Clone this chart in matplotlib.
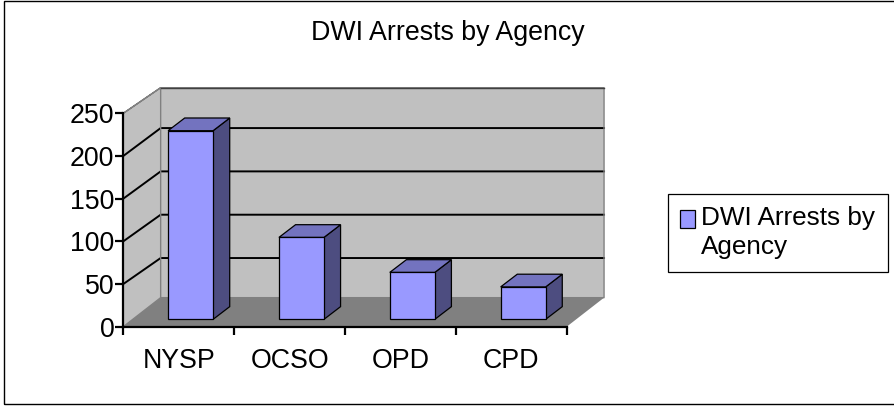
import matplotlib as mpl
mpl.use('Agg')
import matplotlib.pyplot as plt
from matplotlib.legend_handler import HandlerPatch
from matplotlib.patches import Polygon, Rectangle

plt.rcParams['font.family'] = ['Liberation Sans', 'DejaVu Sans']

agencies = ['NYSP', 'OCSO', 'OPD', 'CPD']
arrests = [221, 96, 55, 38]
y_ticks = [0, 50, 100, 150, 200, 250]
title = 'DWI Arrests by Agency'
legend_label = 'DWI Arrests by\nAgency'

W, H = 894, 407
FS = 19.3

# fake 3d offsets, in data units
wall_dx = 0.337
floor_dy = 34
wall_scale = 0.984
grid_dy = 29.7
grid_scale = 1.015
bar_w = 0.406
bar_shift_x = 0.127
bar_shift_y = 8.6
bar_dx = 0.15
bar_dy = 14.9

fig = plt.figure(figsize=(W / 100, H / 100), dpi=100)
fig.add_artist(Rectangle((3.5 / W, 1 - 403.5 / H), 895 / W, 403 / H, fill=False, ec='black', lw=1.0,
                         transform=fig.transFigure))
ax = fig.add_axes([123.3 / W, 1 - 326.7 / H, (566.7 - 123.3) / W, (326.7 - 113.3) / H])
ax.set_xlim(0, len(agencies))
ax.set_ylim(0, 250)
ax.patch.set_visible(False)


def poly(pts, fc, ec='none', lw=0, z=1):
    ax.add_patch(Polygon(pts, closed=True, fc=fc, ec=ec, lw=lw, zorder=z, clip_on=False))


def back(v):
    return v * wall_scale + floor_dy


def raised_square(legend, orig_handle, xdescent, ydescent, width, height, fontsize):
    # legend key sits next to the first text line
    return Rectangle((-xdescent, -ydescent + 10), width, height)


n = len(agencies)
# walls and floor
poly([(wall_dx, back(0)), (n + wall_dx, back(0)), (n + wall_dx, back(250)), (wall_dx, back(250))], '#c0c0c0')
poly([(0, 0), (wall_dx, back(0)), (wall_dx, back(250)), (0, 250)], '#c0c0c0')
poly([(0, 0), (n, 0), (n + wall_dx, back(0)), (wall_dx, back(0))], '#808080')

# gridlines on side wall and back wall
for v in y_ticks[1:-1]:
    gy = v * grid_scale + grid_dy
    ax.plot([0, wall_dx, n + wall_dx], [v, gy, gy], color='black', lw=1.4, zorder=2, clip_on=False)
ax.plot([0, wall_dx, n + wall_dx, n + wall_dx, wall_dx, wall_dx, 0], [250, back(250), back(250), back(0), back(0), back(250), 250],
        color='#808080', lw=1.0, zorder=2, clip_on=False)
ax.plot([wall_dx, n + wall_dx], [back(250), back(250)], color='#404040', lw=1.0, zorder=2, clip_on=False)
ax.plot([0, wall_dx], [0, back(0)], color='#808080', lw=1.0, zorder=2, clip_on=False)

# bars: side and top faces follow the front face
for i, val in enumerate(arrests):
    x0 = i + 0.5 - bar_w / 2 + bar_shift_x - 0.02
    x1 = x0 + bar_w
    y0 = bar_shift_y
    y1 = val + bar_shift_y
    poly([(x1, y0), (x1 + bar_dx, y0 + bar_dy), (x1 + bar_dx, y1 + bar_dy), (x1, y1)], '#4d4d80', 'black', 0.9, 3)
    poly([(x0, y1), (x1, y1), (x1 + bar_dx, y1 + bar_dy), (x0 + bar_dx, y1 + bar_dy)], '#7373bf', 'black', 0.9, 3)
    ax.bar(x0, val, width=bar_w, bottom=y0, align='edge', color='#9999ff', edgecolor='black', lw=0.9, zorder=4, clip_on=False)

# axes
for s in ['top', 'right']:
    ax.spines[s].set_visible(False)
for s in ['left', 'bottom']:
    ax.spines[s].set_linewidth(1.6)
    ax.spines[s].set_zorder(5)
ax.set_yticks(y_ticks)
ax.tick_params(axis='y', labelsize=FS, length=5.5, width=1.6, pad=1)
ax.set_xticks(range(n + 1))
ax.set_xticklabels([])
ax.set_xticks([i + 0.5 for i in range(n)], agencies, minor=True)
ax.tick_params(axis='x', which='major', length=5.5, width=1.6)
ax.tick_params(axis='x', which='minor', length=0, labelsize=FS, pad=15)

fig.text(448 / W, 1 - 33 / H, title, fontsize=FS, ha='center', va='center')

handle = Rectangle((0, 0), 1, 1, fc='#9999ff', ec='black', lw=0.9)
leg = fig.legend([handle], [legend_label], loc='upper left', bbox_to_anchor=(668 / W, 1 - 194 / H),
                 bbox_transform=fig.transFigure, fontsize=18.8, fancybox=False, framealpha=1, edgecolor='black',
                 borderaxespad=0, borderpad=0.47, handlelength=0.56, handleheight=0.68, handletextpad=0.25,
                 labelspacing=0, handler_map={Rectangle: HandlerPatch(patch_func=raised_square)})
leg.get_frame().set_linewidth(0.9)
leg.get_texts()[0].set_linespacing(1.27)

fig.savefig('out.png', dpi=100)
